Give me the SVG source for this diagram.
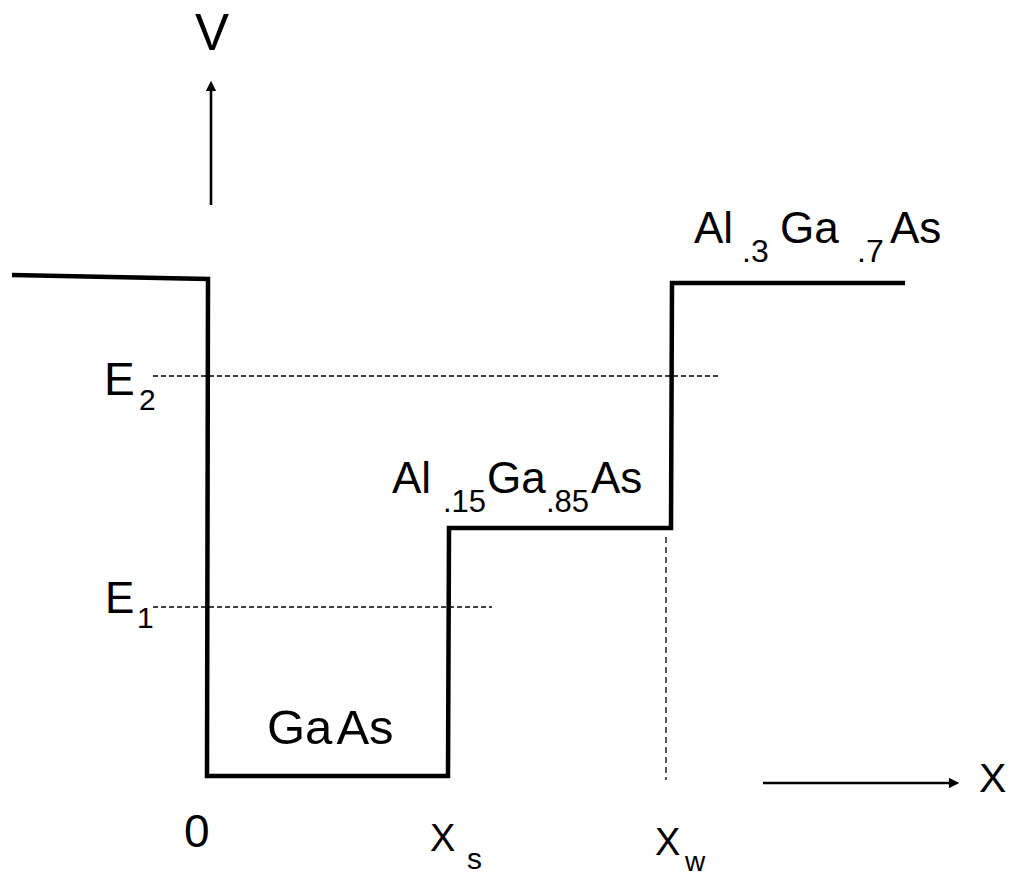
<svg xmlns="http://www.w3.org/2000/svg" width="1012" height="875" viewBox="0 0 1012 875">
  <style>
    text { font-family: "Liberation Sans", Arial, sans-serif; fill: #000; }
    .main { font-size: 44px; }
    .sub { font-size: 32px; }
    .lbl { font-size: 46px; }
    .esub { font-size: 30px; }
    .profile { fill: none; stroke: #000; stroke-width: 4.5; stroke-linejoin: miter; }
    .level { fill: none; stroke: #000; stroke-width: 1.3; stroke-dasharray: 5 3; }
    .axis { fill: none; stroke: #000; stroke-width: 2.6; }
  </style>
  <defs>
    <marker id="arrow" viewBox="0 0 10 10" refX="2" refY="5" markerWidth="4.5" markerHeight="4" orient="auto" markerUnits="strokeWidth">
      <path d="M0,0 L10,5 L0,10 z" fill="#000"/>
    </marker>
  </defs>
  <rect width="1012" height="875" fill="#fff"/>

  <g id="profile">
    <path class="profile" d="M12,275 L208,279 L207,776 L448,776 L449,528 L671,528 L672,283 L905,283"/>
  </g>

  <g id="levels">
    <path class="level" d="M153,376 H718"/>
    <path class="level" d="M153,607 H492"/>
    <path class="level" d="M666,537 V780" style="stroke-dasharray:6 4"/>
  </g>

  <g id="connectors">
    <path class="axis" d="M211,205 V89" marker-end="url(#arrow)"/>
    <path class="axis" d="M763,783 H951" marker-end="url(#arrow)"/>
  </g>

  <g id="label-V"><text x="212" y="50" text-anchor="middle" style="font-size:51px">V</text></g>
  <g id="label-X"><text x="979" y="792" style="font-size:41px">X</text></g>

  <g id="label-AlGaAs-3">
    <text class="main" x="694" y="243">Al</text>
    <text class="sub" x="742" y="262">.3</text>
    <text class="main" x="780" y="243">Ga</text>
    <text class="sub" x="857" y="262">.7</text>
    <text class="main" x="890" y="243">As</text>
  </g>

  <g id="label-AlGaAs-15">
    <text class="main" x="392" y="493">Al</text>
    <text class="sub" x="443" y="512" style="font-size:31px">.15</text>
    <text class="main" x="487" y="493">Ga</text>
    <text class="sub" x="546" y="512" style="font-size:31px">.85</text>
    <text class="main" x="591" y="493">As</text>
  </g>

  <g id="label-GaAs">
    <text style="font-size:49px" x="267" y="744">Ga<tspan dx="4">As</tspan></text>
  </g>

  <g id="label-E2">
    <text class="lbl" x="104" y="395">E</text>
    <text class="esub" x="139" y="410">2</text>
  </g>
  <g id="label-E1">
    <text class="lbl" style="font-size:44px" x="105" y="613">E</text>
    <text class="esub" x="137" y="628">1</text>
  </g>

  <g id="label-0"><text class="lbl" x="184" y="847">0</text></g>
  <g id="label-xs">
    <text style="font-size:38px" x="430" y="851">X</text>
    <text style="font-size:30px" x="467" y="869">s</text>
  </g>
  <g id="label-xw">
    <text style="font-size:38px" x="655" y="855">X</text>
    <text style="font-size:28px" x="685" y="871">w</text>
  </g>
</svg>
